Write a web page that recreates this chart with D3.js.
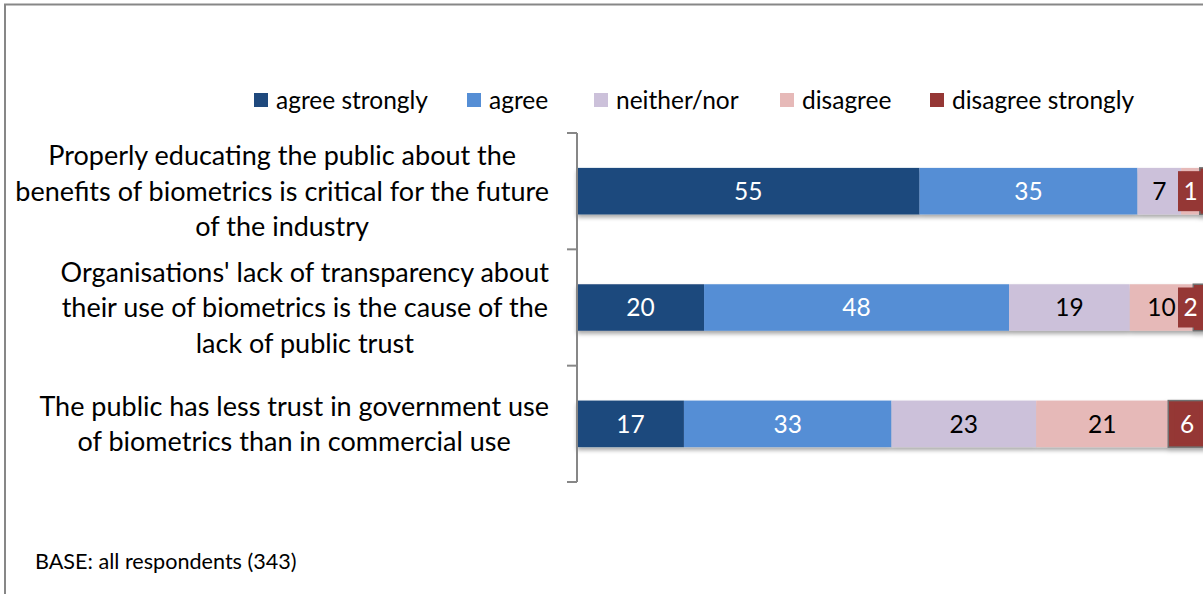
<!DOCTYPE html>
<html>
<head>
<meta charset="utf-8">
<script src="https://cdn.jsdelivr.net/npm/d3@7"></script>
<style>
  html, body { margin: 0; padding: 0; background: #fff; }
  svg { display: block; }
  text { font-family: Lato, "Open Sans", sans-serif; }
</style>
</head>
<body>
<svg id="chart" width="1203" height="594"></svg>
<script>
// Survey statements (one bar each), multi-line category labels
const statements = [
  ["Properly educating the public about the", "benefits of biometrics is critical for the future", "of the industry"],
  ["Organisations' lack of transparency about", "their use of biometrics is the cause of the", "lack of public trust"],
  ["The public has less trust in government use", "of biometrics than in commercial use"]
];
const responseKeys = ["agree strongly", "agree", "neither/nor", "disagree", "disagree strongly"];
const agreeStrongly    = [55, 20, 17];
const agree            = [35, 48, 33];
const neitherNor       = [7, 19, 23];
const disagree         = [3, 10, 21];
const disagreeStrongly = [1, 2, 6];
const baseNote = "BASE: all respondents (343)";

const colors = ["#1f497d", "#558ed5", "#ccc1da", "#e6b9b8", "#953735"];
const labelColors = ["#fff", "#fff", "#000", "#000", "#fff"];

const rows = statements.map((s, i) => ({
  id: i,
  "agree strongly": agreeStrongly[i],
  "agree": agree[i],
  "neither/nor": neitherNor[i],
  "disagree": disagree[i],
  "disagree strongly": disagreeStrongly[i]
}));

const svg = d3.select("#chart");
const W = 1203, H = 594;

// outer frame of the chart area
svg.append("rect")
  .attr("x", 5).attr("y", 4.5)
  .attr("width", W + 20).attr("height", H + 20)
  .attr("fill", "#fff").attr("stroke", "#878787").attr("stroke-width", 2);

const defs = svg.append("defs");
const shadow = defs.append("filter").attr("id", "shadow")
  .attr("x", "-5%").attr("y", "-20%").attr("width", "110%").attr("height", "160%");
shadow.append("feDropShadow")
  .attr("dx", 0).attr("dy", 3).attr("stdDeviation", 2)
  .attr("flood-color", "#000").attr("flood-opacity", 0.35);

const plotLeft = 577, plotWidth = 629;
const plotTop = 133, plotBottom = 482;

const x = d3.scaleLinear().domain([0, 1]).range([plotLeft, plotLeft + plotWidth]);
const y = d3.scaleBand().domain(rows.map(d => d.id)).range([plotTop, plotBottom]).paddingInner(0.6).paddingOuter(0.3);
const yAxisScale = d3.scaleBand().domain(rows.map(d => d.id)).range([plotTop, plotBottom]);

const stacked = d3.stack().keys(responseKeys).offset(d3.stackOffsetExpand)(rows);

// bars
const rowGroups = svg.append("g").selectAll("g.row")
  .data(rows).join("g").attr("class", "row")
  .attr("filter", "url(#shadow)");

rowGroups.each(function(r, i) {
  const g = d3.select(this);
  stacked.forEach((layer, k) => {
    const seg = layer[i];
    g.append("rect")
      .attr("x", x(seg[0]))
      .attr("y", y(r.id))
      .attr("width", x(seg[1]) - x(seg[0]))
      .attr("height", y.bandwidth())
      .attr("fill", colors[k])
      .attr("stroke", k === 4 ? "#6f6f6f" : "none")
      .attr("stroke-width", k === 4 ? 1.5 : 0);
  });
});

// value labels
const labelLayer = svg.append("g");
stacked.forEach((layer, k) => {
  layer.forEach((seg, i) => {
    const v = seg.data[responseKeys[k]];
    const x0 = x(seg[0]), x1 = x(seg[1]);
    const cy = y(rows[i].id) + y.bandwidth() / 2;
    let cx = (x0 + x1) / 2;
    if (k === 4) {
      // boxed label for the last series, kept inside the visible area
      const bw = 25, bh = 40;
      let bx = cx - bw / 2;
      if (bx + bw > W) bx = W - bw;
      labelLayer.append("rect")
        .attr("x", bx).attr("y", cy - bh / 2)
        .attr("width", bw).attr("height", bh)
        .attr("fill", colors[k]);
      cx = bx + bw / 2;
    } else if (x1 - x0 < 22) {
      return;
    }
    labelLayer.append("text")
      .attr("x", cx).attr("y", cy)
      .attr("dy", "0.36em")
      .attr("text-anchor", "middle")
      .attr("font-size", 24.5)
      .attr("fill", labelColors[k])
      .text(v);
  });
});

// category axis: line and ticks between categories
const axis = svg.append("g").attr("stroke", "#878787").attr("stroke-width", 2).attr("fill", "none");
axis.append("line").attr("x1", plotLeft).attr("x2", plotLeft).attr("y1", plotTop).attr("y2", plotBottom);
const tickYs = rows.map(d => yAxisScale(d.id)).concat([plotBottom]);
axis.selectAll("line.tick").data(tickYs).join("line").attr("class", "tick")
  .attr("x1", plotLeft - 10).attr("x2", plotLeft).attr("y1", d => d).attr("y2", d => d);

// category labels: block right-aligned at 549, lines centred within it
const lineH = 35.5;
statements.forEach((lines, i) => {
  const cy = yAxisScale(rows[i].id) + yAxisScale.bandwidth() / 2;
  const g = svg.append("g");
  const texts = lines.map((l, j) => g.append("text")
    .attr("font-size", 27)
    .attr("fill", "#000")
    .attr("text-anchor", "middle")
    .attr("y", cy + (j - (lines.length - 1) / 2) * lineH)
    .attr("dy", "0.36em")
    .text(l));
  const maxW = d3.max(texts, t => t.node().getComputedTextLength());
  texts.forEach(t => t.attr("x", 549 - maxW / 2));
});

// legend
const legendX = [254, 467, 594, 780, 930];
const legend = svg.append("g");
responseKeys.forEach((k, i) => {
  legend.append("rect").attr("x", legendX[i]).attr("y", 93).attr("width", 14).attr("height", 14).attr("fill", colors[i]);
  legend.append("text").attr("x", legendX[i] + 22).attr("y", 100).attr("dy", "0.36em")
    .attr("font-size", 24.5).attr("fill", "#000").text(k);
});

// base note
svg.append("text").attr("x", 35).attr("y", 561).attr("dy", "0.36em")
  .attr("font-size", 21.6).attr("fill", "#000").text(baseNote);
</script>
</body>
</html>
